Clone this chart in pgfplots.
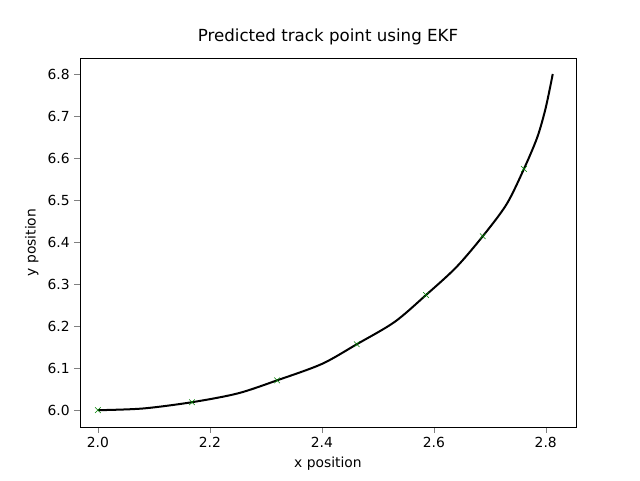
\documentclass[border=0pt]{standalone}
\usepackage{pgfplots}
\pgfplotsset{compat=1.18}
\usepackage{fontspec}
\setmainfont{DejaVu Sans}
\begin{document}
\begin{tikzpicture}
\path (-60pt,-39.75pt) rectangle (420pt,320.25pt);
\begin{axis}[at={(0,0)},anchor=south west,scale only axis,width=372pt,height=276.75pt,
xmin=1.968,xmax=2.854,ymin=5.96,ymax=6.838,
xtick={2.0,2.2,2.4,2.6,2.8},ytick={6.0,6.1,6.2,6.3,6.4,6.5,6.6,6.7,6.8},
xticklabel style={/pgf/number format/.cd,fixed,fixed zerofill,precision=1},
yticklabel style={/pgf/number format/.cd,fixed,fixed zerofill,precision=1},
/pgf/number format/assume math mode=true,
ticklabel style={font=\fontsize{10.4}{12}\selectfont},
label style={font=\fontsize{10.4}{12}\selectfont},
title style={font=\fontsize{12.5}{14}\selectfont},
tick align=outside,tick pos=left,
title={Predicted track point using EKF},xlabel={x position},ylabel={y position}]
\addplot[black,line width=1.5pt,smooth] coordinates {(2.0,6.0) (2.08,6.004) (2.168,6.019) (2.25,6.04) (2.32,6.071) (2.4,6.11) (2.4625,6.157) (2.53,6.21) (2.586,6.274) (2.64,6.34) (2.6875,6.414) (2.73,6.49) (2.761,6.574) (2.785,6.65) (2.80,6.72) (2.8125,6.8)};
\addplot[only marks,mark=x,mark size=3pt,color={rgb,255:red,0;green,128;blue,0}] coordinates {(2.0,6.0) (2.168,6.019) (2.32,6.071) (2.4625,6.157) (2.586,6.274) (2.6875,6.414) (2.761,6.574)};
\end{axis}
\end{tikzpicture}
\end{document}
